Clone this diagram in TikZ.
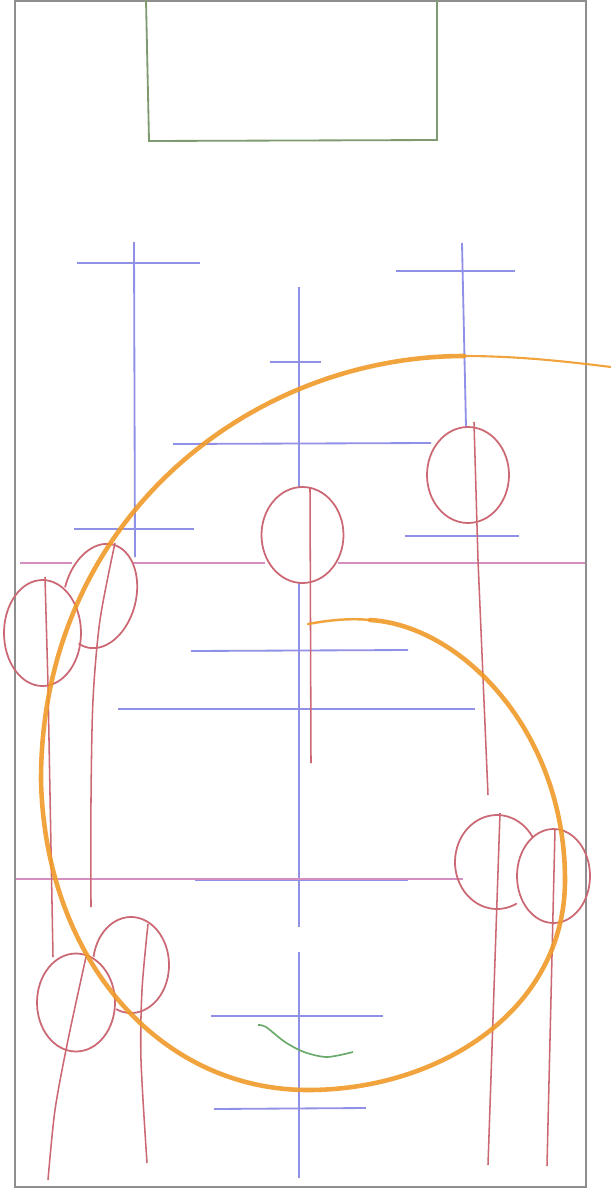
\documentclass[tikz,border=0pt]{standalone}
\usepackage{xcolor}
\usepackage{tikz}
\definecolor{frame}{HTML}{8E8E8E}
\definecolor{goal}{HTML}{7F9A70}
\definecolor{guide}{HTML}{9090E6}
\definecolor{level}{HTML}{D58EC0}
\definecolor{player}{HTML}{CB6874}
\definecolor{sweep}{HTML}{F09A28}
\definecolor{smile}{HTML}{6AAA6A}

\begin{document}
\begin{tikzpicture}[x=0.05cm, y=-0.05cm,
    pitch/.style={draw=frame, line width=2.6pt},
    box/.style={draw=goal, line width=2.6pt},
    cross/.style={draw=guide, line width=2.6pt},
    levelline/.style={draw=level, line width=2.4pt},
    body/.style={draw=player, line width=2.2pt},
    head/.style={draw=player, line width=2.5pt},
    curve/.style={draw=sweep, line width=#1, line cap=round, opacity=0.9}
]
    \useasboundingbox (0,0) rectangle (611,1193);
    % Pitch and goal box
    \draw[pitch] (15,1) -- (15,1187) -- (586,1187) -- (586,1) -- cycle;
    \draw[box] (146,0) -- (149,141) -- (437,140) -- (437,0);

    % Left cross
    \draw[cross] (134,242) -- (135,557);
    \draw[cross] (77,263) -- (200,263);
    \draw[cross] (74,529) -- (194,529);

    % Middle cross
    \draw[cross] (299,287) -- (299,487);
    \draw[cross] (299,583) -- (299,927);
    \draw[cross] (299,952) -- (299,1178);
    \draw[cross] (270,362) -- (321,362);
    \draw[cross] (173,444) -- (431,443);
    \draw[cross] (191,651) -- (408,650);
    \draw[cross] (118,709) -- (475,709);
    \draw[cross] (195,880) -- (408,880);
    \draw[cross] (211,1016) -- (383,1016);
    \draw[cross] (214,1109) -- (366,1108);

    % Right cross
    \draw[cross] (462,243) -- (466,427);
    \draw[cross] (396,271) -- (515,271);
    \draw[cross] (405,536) -- (519,536);

    % Level lines
    \draw[levelline] (20,563) -- (72,563);
    \draw[levelline] (132,563) -- (265,563);
    \draw[levelline] (338,563) -- (585,563);
    \draw[levelline] (16,879) -- (463,879);

    % Players
    \draw[head] (302.5,535) ellipse [x radius=41, y radius=48];
    \draw[body] (310,487) -- (311,763);

    \draw[head] (468,475) ellipse [x radius=41, y radius=48];
    \draw[body] (474,422) -- (478,560) -- (488,795);

    \draw[head] (42.5,633) ellipse [x radius=38.5, y radius=53];
    \draw[body] (45,577) -- (48,685) -- (53,957);
    \begin{scope}[rotate around={-14:(100,596)}]
        \draw[head] (100,596) ++(180:36 and 53) arc [start angle=180, end angle=465, x radius=36, y radius=53];
    \end{scope}
    \draw[body] plot[smooth] coordinates {(115,543) (100,620) (93,700) (91,800) (91,907)};

    \draw[head] (553.5,876) ellipse [x radius=36.5, y radius=47];
    \draw[head] (497,862) ++(62:42 and 47) arc [start angle=62, end angle=328, x radius=42, y radius=47];
    \draw[body] (500,813) -- (488,1165);
    \draw[body] (555,829) -- (547,1166);

    \draw[head] (76,1002.5) ellipse [x radius=39, y radius=49];
    \draw[head] (131,965) ++(190:38 and 48) arc [start angle=190, end angle=473, x radius=38, y radius=48];
    \draw[body] plot[smooth] coordinates {(148,924) (142,990) (141,1060) (147,1163)};
    \draw[body] plot[smooth] coordinates {(86,957) (68,1040) (55,1110) (48,1180)};

    % Sweep curve
    \draw[curve=3.5pt] (308,624) .. controls (330,620) and (350,618) .. (370,620);
    \draw[curve=6.5pt] (370,620) .. controls (460,625) and (565,730) .. (565,880)
        .. controls (565,1010) and (440,1090) .. (308,1090)
        .. controls (160,1090) and (45,960) .. (41,780)
        .. controls (41,520) and (250,356) .. (464,356);
    \draw[curve=3pt] (464,356) .. controls (520,356) and (570,362) .. (611,367);

    % Smile
    \draw[draw=smile, line width=2.4pt] plot[smooth] coordinates {(258,1025) (266,1027) (285,1042) (304,1052) (327,1057) (353,1052)};
\end{tikzpicture}
\end{document}
